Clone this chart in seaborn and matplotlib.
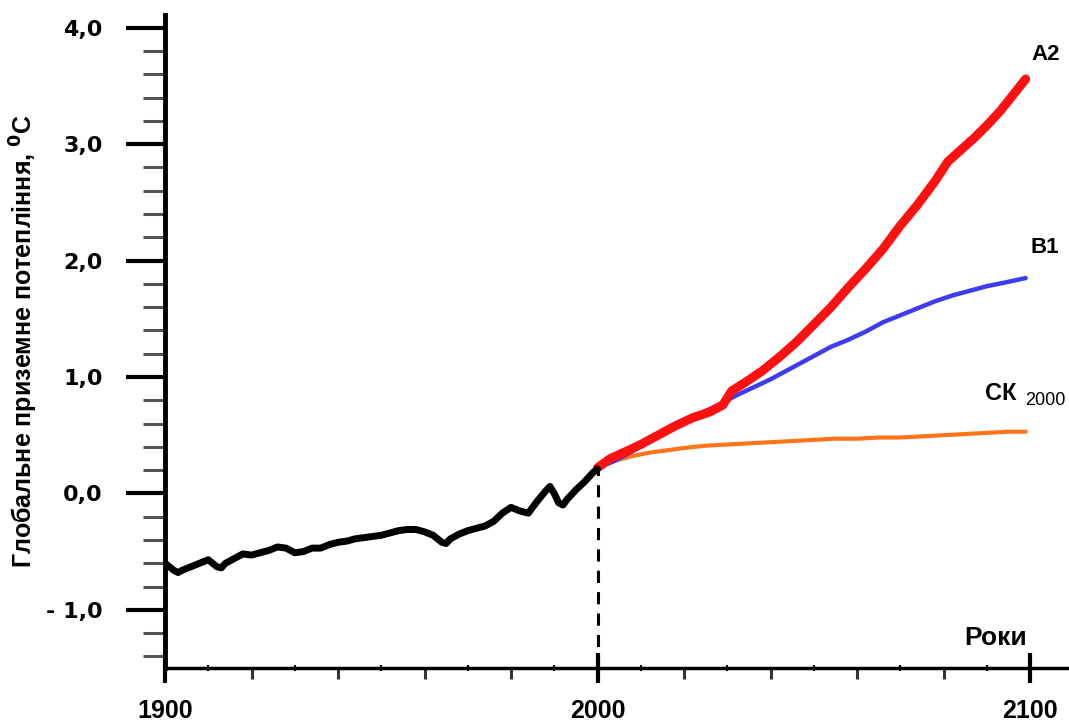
import matplotlib
matplotlib.use("Agg")
import matplotlib.pyplot as plt
import seaborn as sns
from matplotlib.ticker import MultipleLocator, FixedLocator

# observed warming 1900-2000
hist_years = [1900, 1901, 1902, 1903, 1904, 1906, 1908, 1910, 1911, 1912, 1913, 1914,
              1916, 1918, 1920, 1922, 1924, 1926, 1928, 1930, 1932, 1934, 1936, 1938,
              1940, 1942, 1944, 1946, 1948, 1950, 1952, 1954, 1956, 1958, 1960, 1962,
              1964, 1965, 1966, 1968, 1970, 1972, 1974, 1976, 1978, 1980, 1982, 1984,
              1986, 1988, 1989, 1990, 1991, 1992, 1993, 1995, 1997, 1999, 2000]
hist_vals = [-0.60, -0.63, -0.66, -0.68, -0.66, -0.63, -0.60, -0.57, -0.60, -0.63, -0.64, -0.60,
             -0.56, -0.52, -0.53, -0.51, -0.49, -0.46, -0.47, -0.51, -0.50, -0.47, -0.47, -0.44,
             -0.42, -0.41, -0.39, -0.38, -0.37, -0.36, -0.34, -0.32, -0.31, -0.31, -0.33, -0.36,
             -0.42, -0.43, -0.39, -0.35, -0.32, -0.30, -0.28, -0.24, -0.17, -0.12, -0.15, -0.17,
             -0.07, 0.02, 0.06, 0.00, -0.08, -0.10, -0.05, 0.03, 0.10, 0.18, 0.21]

# scenario projections 2000-2100
a2_years = [2000, 2003, 2006, 2010, 2014, 2018, 2022, 2026, 2029, 2031, 2034, 2038, 2042,
            2046, 2050, 2054, 2058, 2062, 2066, 2070, 2074, 2078, 2081, 2084, 2087, 2090,
            2093, 2096, 2099]
a2_vals = [0.22, 0.30, 0.35, 0.42, 0.50, 0.58, 0.65, 0.70, 0.76, 0.88, 0.95, 1.05, 1.17,
           1.30, 1.45, 1.60, 1.77, 1.93, 2.10, 2.30, 2.48, 2.68, 2.85, 2.95, 3.05, 3.16,
           3.28, 3.42, 3.56]

b1_years = [2000, 2004, 2008, 2012, 2016, 2020, 2024, 2028, 2032, 2036, 2040, 2043, 2046,
            2050, 2054, 2058, 2062, 2066, 2070, 2074, 2078, 2082, 2086, 2090, 2094, 2099]
b1_vals = [0.22, 0.28, 0.36, 0.45, 0.54, 0.62, 0.69, 0.76, 0.84, 0.91, 0.98, 1.04, 1.10,
           1.18, 1.26, 1.32, 1.39, 1.47, 1.53, 1.59, 1.65, 1.70, 1.74, 1.78, 1.81, 1.85]

ck_years = [2000, 2004, 2008, 2012, 2016, 2020, 2025, 2030, 2035, 2040, 2045, 2050, 2055,
            2060, 2065, 2070, 2075, 2080, 2085, 2090, 2095, 2099]
ck_vals = [0.22, 0.28, 0.32, 0.35, 0.37, 0.39, 0.41, 0.42, 0.43, 0.44, 0.45, 0.46, 0.47,
           0.47, 0.48, 0.48, 0.49, 0.50, 0.51, 0.52, 0.53, 0.53]

y_ticks = [-1, 0, 1, 2, 3, 4]
y_tick_labels = ["- 1,0", "0,0", "1,0", "2,0", "3,0", "4,0"]
x_ticks = [1900, 2000, 2100]

sns.set_style("ticks")
plt.rcParams["font.family"] = ["Liberation Sans", "DejaVu Sans"]
for key in ("text.color", "axes.labelcolor", "xtick.color", "ytick.color", "axes.edgecolor"):
    plt.rcParams[key] = "black"

fig = plt.figure(figsize=(10.69, 7.26), dpi=100)
ax = fig.add_axes([165 / 1069, 58 / 726, 904 / 1069, 653 / 726])

sns.lineplot(x=ck_years, y=ck_vals, color="#ff7418", lw=3.0, ax=ax)
sns.lineplot(x=b1_years, y=b1_vals, color="#3c3cf0", lw=3.2, ax=ax)
sns.lineplot(x=a2_years, y=a2_vals, color="#ff1010", lw=6.5, ax=ax)
sns.lineplot(x=hist_years, y=hist_vals, color="black", lw=5.0, ax=ax)

# dashed marker at 2000
ax.vlines(2000, -1.5, hist_vals[-1], colors="black", linestyles=(0, (4, 3)), lw=2.2)

ax.set_xlim(1900, 1900 + 904 / 4.325)
ax.set_ylim(-1.5, 4.11)

for side in ("top", "right"):
    ax.spines[side].set_visible(False)
ax.spines["left"].set_linewidth(3.5)
ax.spines["bottom"].set_linewidth(2.5)

ax.set_yticks(y_ticks)
ax.set_yticklabels(y_tick_labels, fontweight="bold", fontsize=16, family="DejaVu Sans")
ax.yaxis.set_minor_locator(MultipleLocator(0.2))
ax.tick_params(axis="y", which="major", left=True, length=28, width=3.0, pad=17,
               direction="out", color="black")
ax.tick_params(axis="y", which="minor", left=True, length=16, width=2.2,
               direction="out", color="#555555")

ax.set_xticks(x_ticks)
ax.set_xticklabels([str(v) for v in x_ticks], fontweight="bold", fontsize=18)
ax.xaxis.set_minor_locator(FixedLocator([1920, 1940, 1960, 1980, 2020, 2040, 2060, 2080]))
ax.tick_params(axis="x", which="major", bottom=True, length=22, width=3.0, pad=11,
               direction="inout")
ax.tick_params(axis="x", which="minor", bottom=True, length=8, width=2.2,
               direction="out", color="#333333")

# tiny 10-year ticks sitting on the axis line
sec = ax.secondary_xaxis(0)
sec.set_xticks([1910, 1930, 1950, 1970, 1990, 2010, 2030, 2050, 2070, 2090])
sec.set_xticklabels([])
sec.tick_params(length=5, width=1.5, direction="inout")
sec.spines["bottom"].set_visible(False)

ax.set_ylabel("Глобальне приземне потепління, $^{\\mathbf{0}}$С",
              fontweight="bold", fontsize=18)
ax.yaxis.set_label_coords(-125 / 904, 0.50)
ax.set_xlabel("")

ax.text(2103.7, 3.77, "A2", fontweight="bold", fontsize=16, ha="center", va="center")
ax.text(2103.5, 2.11, "B1", fontweight="bold", fontsize=16, ha="center", va="center")
ax.text(2089.6, 0.86, "СК", fontweight="bold", fontsize=17, ha="left", va="center")
ax.text(2098.8, 0.80, "2000", fontsize=13, ha="left", va="center")
ax.text(2092.0, -1.24, "Роки", fontweight="bold", fontsize=19, ha="center", va="center")

fig.savefig("out.png", dpi=100)
